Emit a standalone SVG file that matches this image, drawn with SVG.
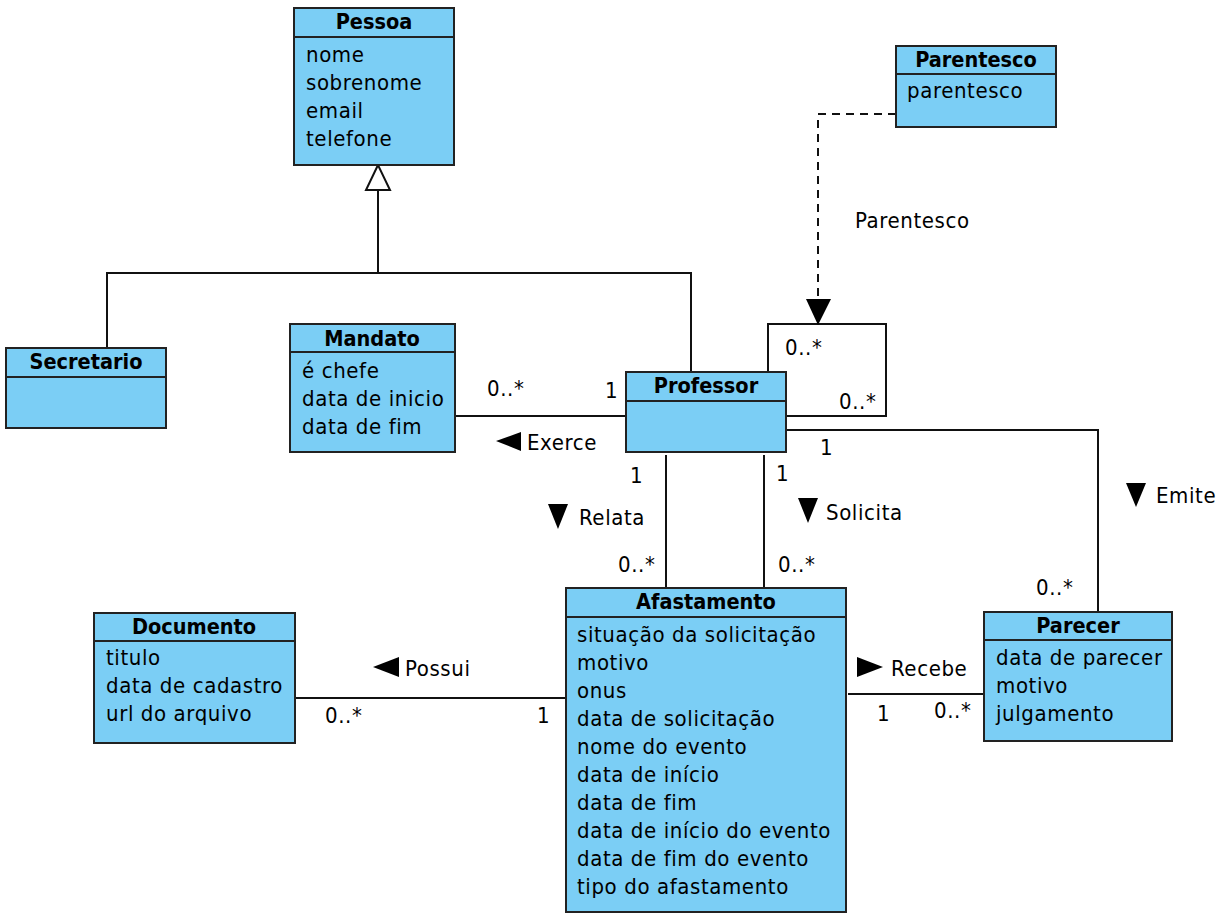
<svg xmlns="http://www.w3.org/2000/svg" width="1216" height="924" viewBox="0 0 1216 924">
<style>
.box{fill:#7BCEF5;stroke:#222;stroke-width:2}
.div{stroke:#222;stroke-width:2}
.t{font-family:"DejaVu Sans Condensed","DejaVu Sans",sans-serif;font-stretch:condensed;font-size:22px;fill:#000;letter-spacing:0.6px}
.h{font-family:"DejaVu Sans Condensed","DejaVu Sans",sans-serif;font-stretch:condensed;font-size:21.5px;font-weight:bold;fill:#000;text-anchor:middle}
.ln{fill:none;stroke:#111;stroke-width:2}
.dash{fill:none;stroke:#111;stroke-width:2;stroke-dasharray:8 6}
.tri{fill:#000}
</style>
<rect width="1216" height="924" fill="#fff"/>
<g id="connectors">
  <polyline class="ln" points="378,190 378,273"/>
  <polyline class="ln" points="107,348 107,273 691,273 691,372"/>
  <polygon points="378,165 366,190 390,190" fill="#fff" stroke="#111" stroke-width="2"/>
  <line class="ln" x1="456" y1="416" x2="626" y2="416"/>
  <text class="t" x="487" y="396">0..*</text>
  <text class="t" x="605" y="398">1</text>
  <polygon class="tri" points="496,441 521,432 521,451"/>
  <text class="t" x="527" y="450">Exerce</text>
  <polyline class="ln" points="768,372 768,324 886,324 886,416 786,416"/>
  <text class="t" x="785" y="355">0..*</text>
  <text class="t" x="839" y="409">0..*</text>
  <polyline class="dash" points="896,114 818,114 818,300"/>
  <polygon class="tri" points="818,325 806,299 831,299"/>
  <text class="t" x="855" y="228">Parentesco</text>
  <polyline class="ln" points="786,430 1098,430 1098,612"/>
  <text class="t" x="820" y="455">1</text>
  <text class="t" x="1036" y="595">0..*</text>
  <polygon class="tri" points="1126,483 1146,483 1136,507"/>
  <text class="t" x="1156" y="503">Emite</text>
  <line class="ln" x1="666" y1="455" x2="666" y2="588"/>
  <text class="t" x="630" y="483">1</text>
  <polygon class="tri" points="548,504 568,504 558,529"/>
  <text class="t" x="579" y="525">Relata</text>
  <text class="t" x="618" y="572">0..*</text>
  <line class="ln" x1="764" y1="455" x2="764" y2="588"/>
  <text class="t" x="776" y="481">1</text>
  <polygon class="tri" points="798,498 818,498 808,523"/>
  <text class="t" x="826" y="520">Solicita</text>
  <text class="t" x="778" y="572">0..*</text>
  <line class="ln" x1="848" y1="694" x2="984" y2="694"/>
  <polygon class="tri" points="883,667 857,657 857,677"/>
  <text class="t" x="891" y="676">Recebe</text>
  <text class="t" x="877" y="721">1</text>
  <text class="t" x="934" y="718">0..*</text>
  <line class="ln" x1="296" y1="698" x2="566" y2="698"/>
  <polygon class="tri" points="373,667 399,657 399,677"/>
  <text class="t" x="405" y="676">Possui</text>
  <text class="t" x="325" y="723">0..*</text>
  <text class="t" x="537" y="723">1</text>
</g>
<g id="Pessoa">
  <rect class="box" x="294" y="8" width="160" height="157"/>
  <line class="div" x1="294" y1="37" x2="454" y2="37"/>
  <text class="h" x="374" y="29">Pessoa</text>
  <text class="t" x="306" y="62">nome</text>
  <text class="t" x="306" y="90">sobrenome</text>
  <text class="t" x="306" y="118">email</text>
  <text class="t" x="306" y="146">telefone</text>
</g>
<g id="Parentesco">
  <rect class="box" x="896" y="46" width="160" height="81"/>
  <line class="div" x1="896" y1="74" x2="1056" y2="74"/>
  <text class="h" x="976" y="67">Parentesco</text>
  <text class="t" x="907" y="98">parentesco</text>
</g>
<g id="Secretario">
  <rect class="box" x="6" y="348" width="160" height="80"/>
  <line class="div" x1="6" y1="377" x2="166" y2="377"/>
  <text class="h" x="86" y="369">Secretario</text>
</g>
<g id="Mandato">
  <rect class="box" x="290" y="324" width="165" height="128"/>
  <line class="div" x1="290" y1="352" x2="455" y2="352"/>
  <text class="h" x="372" y="346">Mandato</text>
  <text class="t" x="302" y="378">é chefe</text>
  <text class="t" x="302" y="406">data de inicio</text>
  <text class="t" x="302" y="434">data de fim</text>
</g>
<g id="Professor">
  <rect class="box" x="626" y="372" width="160" height="80"/>
  <line class="div" x1="626" y1="401" x2="786" y2="401"/>
  <text class="h" x="706" y="393">Professor</text>
</g>
<g id="Documento">
  <rect class="box" x="94" y="613" width="201" height="130"/>
  <line class="div" x1="94" y1="641" x2="295" y2="641"/>
  <text class="h" x="194" y="634">Documento</text>
  <text class="t" x="106" y="665">titulo</text>
  <text class="t" x="106" y="693">data de cadastro</text>
  <text class="t" x="106" y="721">url do arquivo</text>
</g>
<g id="Afastamento">
  <rect class="box" x="566" y="588" width="280" height="324"/>
  <line class="div" x1="566" y1="617" x2="846" y2="617"/>
  <text class="h" x="706" y="609">Afastamento</text>
  <text class="t" x="577" y="642">situação da solicitação</text>
  <text class="t" x="577" y="670">motivo</text>
  <text class="t" x="577" y="698">onus</text>
  <text class="t" x="577" y="726">data de solicitação</text>
  <text class="t" x="577" y="754">nome do evento</text>
  <text class="t" x="577" y="782">data de início</text>
  <text class="t" x="577" y="810">data de fim</text>
  <text class="t" x="577" y="838">data de início do evento</text>
  <text class="t" x="577" y="866">data de fim do evento</text>
  <text class="t" x="577" y="894">tipo do afastamento</text>
</g>
<g id="Parecer">
  <rect class="box" x="984" y="612" width="188" height="129"/>
  <line class="div" x1="984" y1="640" x2="1172" y2="640"/>
  <text class="h" x="1078" y="633">Parecer</text>
  <text class="t" x="996" y="665">data de parecer</text>
  <text class="t" x="996" y="693">motivo</text>
  <text class="t" x="996" y="721">julgamento</text>
</g>
</svg>
